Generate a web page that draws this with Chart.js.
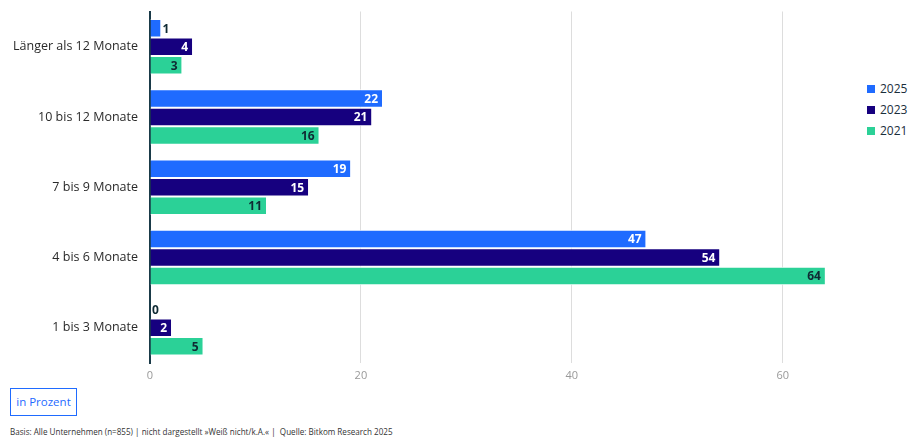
<!DOCTYPE html>
<html>
<head>
<meta charset="utf-8">
<script src="https://cdn.jsdelivr.net/npm/chart.js@4.4.0/dist/chart.umd.min.js"></script>
<style>
  body { margin: 0; background: #fff; font-family: "Open Sans", sans-serif; }
  #wrap { position: relative; width: 922px; height: 437px; overflow: hidden; }
  #chartBox { position: absolute; left: 0; top: -8px; width: 860px; height: 401px; }
  #legend { position: absolute; left: 867px; top: 78px; font-size: 12px; color: #1a2e3b; }
  #legend div { height: 21px; display: flex; align-items: center; }
  #legend span.sw { display: inline-block; width: 8px; height: 8px; margin-right: 5px; }
  #unit { position: absolute; left: 10px; top: 388px; width: 65px; height: 26px; border: 1px solid #1f6bff;
          color: #1f6bff; font-size: 11.5px; line-height: 26px; text-align: center; background: #fff; }
  #source { position: absolute; left: 10px; top: 426px; font-size: 8.1px; color: #333; }
</style>
</head>
<body>
<div id="wrap">
  <div id="chartBox"><canvas id="chart"></canvas></div>
  <div id="legend"></div>
  <div id="unit">in Prozent</div>
  <div id="source">Basis: Alle Unternehmen (n=855) | nicht dargestellt »Weiß nicht/k.A.« |&nbsp; Quelle: Bitkom Research 2025</div>
</div>
<script>
// categories (top to bottom)
const categories = ["Länger als 12 Monate", "10 bis 12 Monate", "7 bis 9 Monate", "4 bis 6 Monate", "1 bis 3 Monate"]
// series
const seriesNames = ["2025", "2023", "2021"]
const values2025 = [1, 22, 19, 47, 0]
const values2023 = [4, 21, 15, 54, 2]
const values2021 = [3, 16, 11, 64, 5]
const xTicks = [0, 20, 40, 60]

const colors = ["#1f6bff", "#16007f", "#2bd197"]
const labelColors = ["#ffffff", "#ffffff", "#0f2a33"]

// value labels drawn at the end of each bar
const valueLabels = {
    id: "valueLabels",
    afterDatasetsDraw(chart){
        let ctx = chart.ctx
        ctx.save()
        ctx.font = "bold 12px 'Open Sans', sans-serif"
        ctx.textBaseline = "middle"
        chart.data.datasets.forEach((ds, di) => {
            chart.getDatasetMeta(di).data.forEach((bar, i) => {
                let v = ds.data[i]
                let w = bar.x - bar.base
                if (w < 16) {
                    ctx.fillStyle = "#0f2a33"
                    ctx.textAlign = "left"
                    ctx.fillText(v, bar.x + 2, bar.y + 1)
                } else {
                    ctx.fillStyle = labelColors[di]
                    ctx.textAlign = "right"
                    ctx.fillText(v, bar.x - 4, bar.y + 1)
                }
            })
        })
        ctx.restore()
    }
}

let chart = new Chart(document.getElementById("chart"), {
    type: "bar",
    data: {
        labels: categories,
        datasets: [values2025, values2023, values2021].map((d, i) => ({
            label: seriesNames[i],
            data: d,
            backgroundColor: colors[i],
            borderColor: "#ffffff",
            borderWidth: { top: 1, bottom: 1, left: 0, right: 0 },
            borderSkipped: false,
            categoryPercentage: 0.79,
            barPercentage: 1
        }))
    },
    options: {
        indexAxis: "y",
        responsive: true,
        maintainAspectRatio: false,
        animation: false,
        layout: { padding: { top: 3, right: 14, left: 0, bottom: 0 } },
        plugins: { legend: { display: false }, tooltip: { enabled: false } },
        scales: {
            x: {
                min: 0, max: 66,
                afterBuildTicks: scale => { scale.ticks = xTicks.map(v => ({ value: v })) },
                afterFit: scale => { scale.height = 30 },
                grid: { color: "#dddddd", drawTicks: false, lineWidth: 1 },
                border: { display: false },
                ticks: { color: "#999999", font: { size: 11, family: "'Open Sans', sans-serif" }, padding: 6 }
            },
            y: {
                afterFit: scale => { scale.width = 150 },
                grid: { display: false, drawTicks: false },
                border: { display: true, color: "#1a3a48", width: 2 },
                ticks: { color: "#2a2a2a", font: { size: 12.5, family: "'Open Sans', sans-serif" }, padding: 12 }
            }
        }
    },
    plugins: [valueLabels]
})

// legend
let legend = document.getElementById("legend")
seriesNames.forEach((name, i) => {
    let row = document.createElement("div")
    row.innerHTML = `<span class="sw" style="background:${colors[i]}"></span>${name}`
    legend.appendChild(row)
})
</script>
</body>
</html>
